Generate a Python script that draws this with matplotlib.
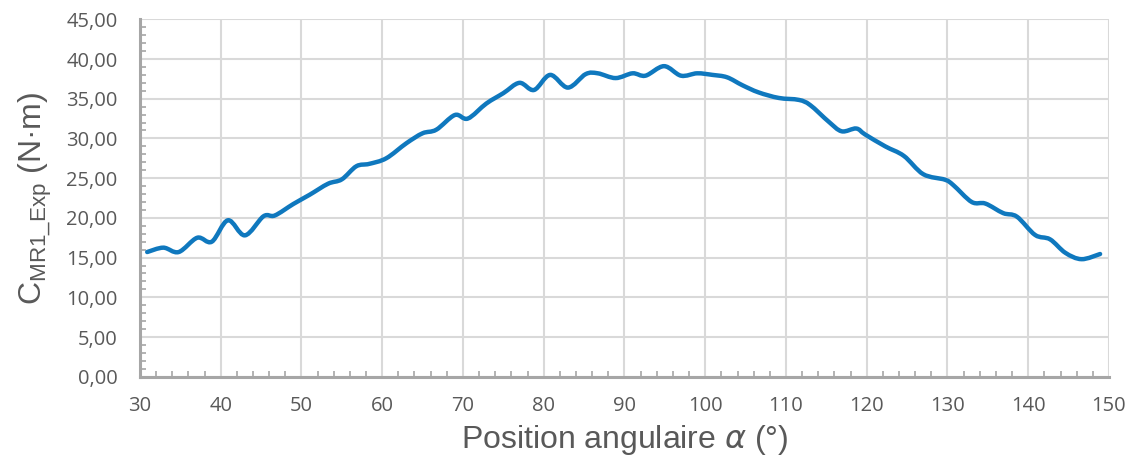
import matplotlib.pyplot as plt
from matplotlib.path import Path
from matplotlib.patches import PathPatch
from matplotlib.ticker import MultipleLocator, FuncFormatter

alpha = [30.9, 32.9, 34.8, 37.1, 38.9, 40.9, 43.0, 45.3, 46.7, 49.0,
         51.0, 53.3, 55.0, 56.8, 58.4, 60.5, 63.0, 65.0, 66.7, 69.0,
         70.6, 72.9, 75.0, 77.0, 78.8, 80.8, 83.0, 85.2, 86.7, 88.9,
         91.0, 92.6, 94.9, 97.0, 99.0, 100.9, 102.7, 104.6, 106.6, 109.1,
         111.6, 113.0, 115.3, 116.9, 118.7, 119.8, 122.3, 124.6, 127.0, 129.7,
         130.75, 133.0, 134.7, 136.9, 138.6, 140.85, 142.7, 144.6, 146.6, 148.9]
torque = [15.7, 16.25, 15.7, 17.5, 17.0, 19.7, 17.8, 20.2, 20.3, 21.75,
          22.9, 24.3, 24.85, 26.5, 26.8, 27.5, 29.4, 30.65, 31.1, 32.95,
          32.5, 34.4, 35.7, 37.0, 36.1, 38.0, 36.4, 38.1, 38.2, 37.6,
          38.2, 37.9, 39.1, 37.9, 38.2, 38.0, 37.7, 36.7, 35.8, 35.1,
          34.85, 34.2, 32.1, 30.9, 31.25, 30.5, 29.0, 27.8, 25.5, 24.8,
          24.1, 22.0, 21.8, 20.6, 20.15, 17.85, 17.3, 15.6, 14.8, 15.45]

grey = '#595959'
plt.rcParams['font.family'] = ['Open Sans', 'DejaVu Sans']


def smooth_path(xs, ys):
    # Excel-like smoothed line: Catmull-Rom through the points as bezier segments
    pts = list(zip(xs, ys))
    verts = [pts[0]]
    codes = [Path.MOVETO]
    n = len(pts)
    for i in range(n - 1):
        p0 = pts[i - 1] if i > 0 else pts[i]
        p1 = pts[i]
        p2 = pts[i + 1]
        p3 = pts[i + 2] if i + 2 < n else pts[i + 1]
        c1 = (p1[0] + (p2[0] - p0[0]) / 6, p1[1] + (p2[1] - p0[1]) / 6)
        c2 = (p2[0] - (p3[0] - p1[0]) / 6, p2[1] - (p3[1] - p1[1]) / 6)
        verts += [c1, c2, p2]
        codes += [Path.CURVE4] * 3
    return Path(verts, codes)


fig = plt.figure(figsize=(11.33, 4.55), dpi=100)
ax = fig.add_axes([0.1235, 0.172, 0.8553, 0.7856])

ax.add_patch(PathPatch(smooth_path(alpha, torque), fill=False, edgecolor='#0F78BE',
                       lw=3.2, joinstyle='round', capstyle='round', zorder=3))

ax.set_xlim(30, 150)
ax.set_ylim(0, 45)
ax.xaxis.set_major_locator(MultipleLocator(10))
ax.xaxis.set_minor_locator(MultipleLocator(2))
ax.yaxis.set_major_locator(MultipleLocator(5))
ax.yaxis.set_minor_locator(MultipleLocator(1))
ax.yaxis.set_major_formatter(FuncFormatter(lambda v, p: f'{v:.2f}'.replace('.', ',')))

ax.grid(True, which='major', color='#D9D9D9', lw=1.5, zorder=0)
ax.set_axisbelow(True)

for s in ['top', 'right']:
    ax.spines[s].set_visible(False)
for s in ['left', 'bottom']:
    ax.spines[s].set_color('#A6A6A6')
    ax.spines[s].set_linewidth(2.2)

ax.tick_params(which='major', length=0, labelsize=14.5, labelcolor=grey)
ax.tick_params(axis='y', which='major', pad=16)
ax.tick_params(axis='x', which='major', pad=14)
ax.tick_params(which='minor', direction='in', length=4, width=1.2, color='#A6A6A6')

ax.set_xlabel(r'Position angulaire $\alpha$ (°)', fontsize=23, color=grey,
              family='Liberation Sans', labelpad=5)
ax.set_ylabel(r'C$_{\mathregular{MR1\_Exp}}$ (N·m)', fontsize=23, color=grey,
              family='Liberation Sans', labelpad=9)

fig.savefig('out.png', dpi=100)
